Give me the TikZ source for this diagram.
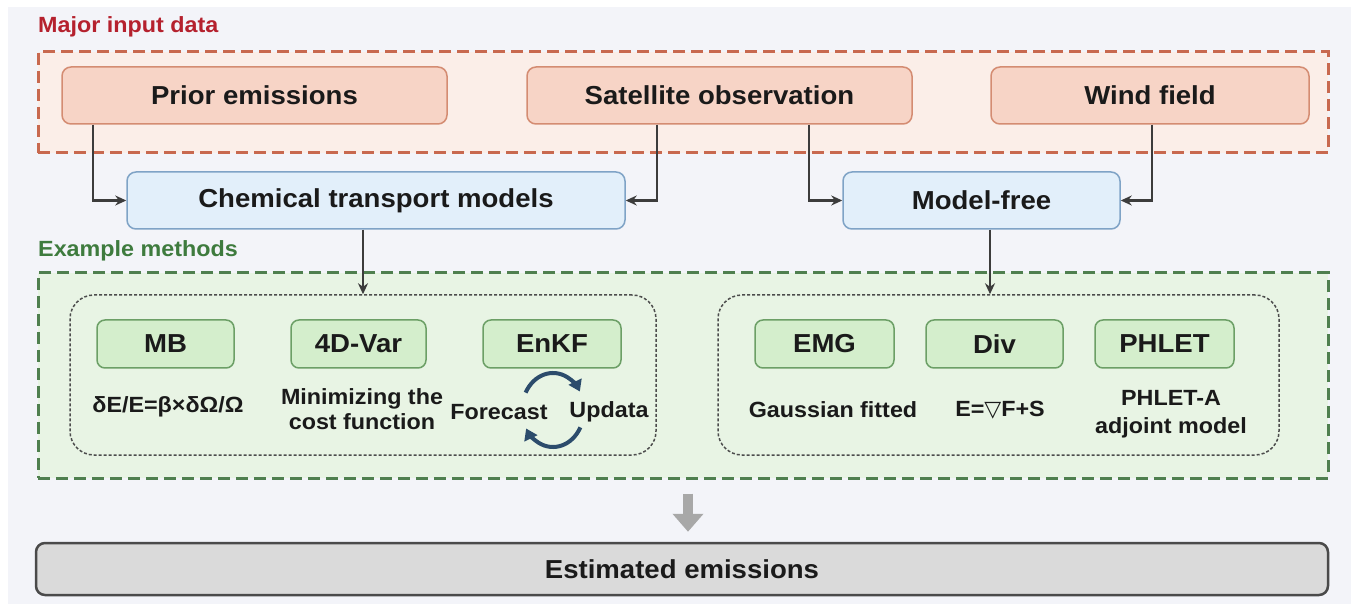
\documentclass[tikz,border=0pt]{standalone}
\usepackage{fontspec}
\setmainfont[FakeStretch=1.06]{Liberation Sans}
\newfontfamily\djv{DejaVu Sans}
\usetikzlibrary{arrows.meta,calc}
\definecolor{bgc}{HTML}{F3F4F9}
\definecolor{redlab}{HTML}{B5212E}
\definecolor{redbord}{HTML}{C8694F}
\definecolor{redfill}{HTML}{FBEEE8}
\definecolor{salfill}{HTML}{F7D4C6}
\definecolor{salbord}{HTML}{D48C72}
\definecolor{bluefill}{HTML}{E2EFFA}
\definecolor{bluebord}{HTML}{7FA3C6}
\definecolor{greenlab}{HTML}{3E7B3E}
\definecolor{greenbord}{HTML}{4F7F4F}
\definecolor{greenfill}{HTML}{E8F4E4}
\definecolor{gboxfill}{HTML}{D4EECC}
\definecolor{gboxbord}{HTML}{6C9F66}
\definecolor{arrc}{HTML}{3C3C3C}
\definecolor{grayarr}{HTML}{A8A8A8}
\definecolor{estfill}{HTML}{DADADA}
\definecolor{estbord}{HTML}{4A4A4A}
\definecolor{cycc}{HTML}{2C4C6C}
\definecolor{txt}{HTML}{1A1A1A}
\begin{document}
\begin{tikzpicture}[x=1pt,y=-1pt,
  lab/.style={anchor=west, inner sep=0pt, font=\fontsize{22}{26}\selectfont\bfseries},
  container/.style={line width=3pt, dash pattern=on 12pt off 6pt, inner sep=0pt},
  innerbox/.style={draw=black!70, line width=1.5pt, dash pattern=on 3pt off 2pt, rounded corners=24pt, inner sep=0pt, minimum height=160pt},
  databox/.style={draw=salbord, fill=salfill, line width=1.5pt, rounded corners=9pt, minimum height=57pt, inner sep=0pt, text=txt, font=\fontsize{26}{30}\selectfont\bfseries},
  modelbox/.style={draw=bluebord, fill=bluefill, line width=1.5pt, rounded corners=9pt, minimum height=57pt, inner sep=0pt, text=txt, font=\fontsize{26}{30}\selectfont\bfseries},
  methbox/.style={draw=gboxbord, fill=gboxfill, line width=1.5pt, rounded corners=8pt, minimum height=48pt, inner sep=0pt, text=txt, font=\fontsize{26}{30}\selectfont\bfseries},
  desc/.style={inner sep=0pt, text=txt, align=center, font=\fontsize{22}{25}\selectfont\bfseries},
  arr/.style={draw=arrc, line width=2.2pt, -{Stealth[length=11pt,width=10pt]}},
  cycarr/.style={draw=cycc, line width=4pt, -{Triangle[length=11pt,width=14pt]}}
]
\useasboundingbox (0,0) rectangle (1361,612);
\fill[white] (0,0) rectangle (1361,612);
\fill[bgc] (8,7) rectangle (1351,604);

% labels
\node[lab, text=redlab] (inlab) at (38,27) {Major input data};
\node[lab, text=greenlab] (exlab) at (38,251) {Example methods};

% containers
\node[container, draw=redbord, fill=redfill, minimum width=1290pt, minimum height=101pt] (inputs) at (683,102.5) {};
\node[container, draw=greenbord, fill=greenfill, minimum width=1290pt, minimum height=205pt] (methods) at (683,375.5) {};
\node[innerbox, minimum width=586pt] (leftin) at (363,375) {};
\node[innerbox, minimum width=561pt] (rightin) at (998.5,375) {};

% input data
\node[databox, minimum width=385pt] (prior) at (254.5,95.5) {Prior emissions};
\node[databox, minimum width=385pt] (sat) at (719.5,95.5) {Satellite observation};
\node[databox, minimum width=318pt] (wind) at (1150,95.5) {Wind field};

% models
\node[modelbox, minimum width=498pt] (ctm) at (376,200.5) {Chemical transport models};
\node[modelbox, minimum width=277pt] (mf) at (981.5,200.5) {Model-free};

% methods
\node[methbox, minimum width=137pt] (mb) at (165.5,344) {MB};
\node[methbox, minimum width=135pt] (var) at (358.5,344) {4D-Var};
\node[methbox, minimum width=138pt] (enkf) at (552,344) {EnKF};
\node[methbox, minimum width=139pt] (emg) at (824.5,344) {EMG};
\node[methbox, minimum width=137pt] (div) at (994.5,344) {Div};
\node[methbox, minimum width=139pt] (phlet) at (1164.5,344) {PHLET};

% descriptions
\node[desc] (mbd) at (168,407) {δE/E=β×δΩ/Ω};
\node[desc] (vard) at (362,409) {Minimizing the\\cost function};
\node[desc] (fc) at (499,412) {Forecast};
\node[desc] (up) at (609,412) {Updata};
\node[desc] (emgd) at (833,410) {Gaussian fitted};
\node[desc] (divd) at (1000,410) {E={\djv\mdseries ▽}F+S};
\node[desc, font=\fontsize{22}{28}\selectfont\bfseries] (phd) at (1171,414) {PHLET-A\\adjoint model};

% cycle arrows
\coordinate (cyc) at (553,410);
\draw[cycarr] ([shift={(152:31pt and 37pt)}]cyc) arc[start angle=152, end angle=30, x radius=31pt, y radius=37pt];
\draw[cycarr] ([shift={(-28:31pt and 37pt)}]cyc) arc[start angle=-28, end angle=-150, x radius=31pt, y radius=37pt];

% connectors
\draw[arr] ([xshift=32pt]prior.south west) |- (ctm.west);
\draw[arr] ([xshift=131pt]sat.south west) |- (ctm.east);
\draw[arr] ([xshift=283pt]sat.south west) |- (mf.west);
\draw[arr] ([xshift=162pt]wind.south west) |- (mf.east);
\draw[arr] (ctm.south -| leftin.north) -- (leftin.north);
\draw[arr] ([xshift=8.5pt]mf.south) -- ([xshift=8.5pt]mf.south |- rightin.north);

% result
\node[draw=estbord, fill=estfill, line width=2.5pt, rounded corners=9pt, minimum width=1292pt, minimum height=52pt, inner sep=0pt, text=txt, font=\fontsize{26}{30}\selectfont\bfseries] (est) at (682,569) {Estimated emissions};
\coordinate (ga) at ([shift={(5pt,-14pt)}]methods.south);
\draw[draw=grayarr, line width=10pt, -{Triangle[length=18pt,width=30pt]}] (ga) -- ([yshift=10pt]ga |- est.north);
\end{tikzpicture}
\end{document}
